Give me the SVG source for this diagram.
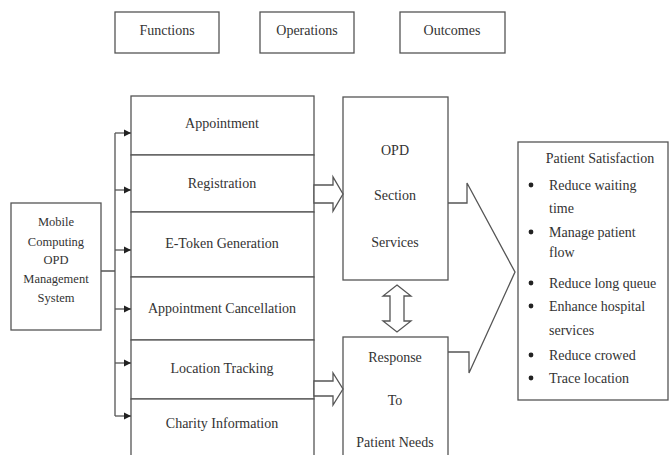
<svg xmlns="http://www.w3.org/2000/svg" width="670" height="455" viewBox="0 0 670 455">
<defs>
<style>
.b{fill:#fff;stroke:#555;stroke-width:1.3}
.l{fill:none;stroke:#555;stroke-width:1.3}
.t{font-family:"Liberation Serif","Times New Roman",serif;font-size:14px;fill:#333;text-anchor:middle}
.s{font-size:12.5px}
.o{font-family:"Liberation Serif","Times New Roman",serif;font-size:14px;fill:#333}
.d{fill:#222}
</style>
<marker id="ah" markerWidth="8" markerHeight="8" refX="7" refY="4" orient="auto" markerUnits="userSpaceOnUse">
<path d="M0,0.5 L7,4 L0,7.5 Z" fill="#222"/>
</marker>
</defs>
<rect width="670" height="455" fill="#fff"/>

<g id="hdr-functions"><rect class="b" x="115" y="12" width="104" height="41"/><text class="t" x="167" y="35">Functions</text></g>
<g id="hdr-operations"><rect class="b" x="260" y="12" width="94" height="41"/><text class="t" x="307" y="35">Operations</text></g>
<g id="hdr-outcomes"><rect class="b" x="400" y="12" width="105" height="41"/><text class="t" x="452" y="35">Outcomes</text></g>

<g id="mobile"><rect class="b" x="11" y="203" width="90" height="127"/>
<text class="t s" x="56" y="226">Mobile</text>
<text class="t s" x="56" y="246">Computing</text>
<text class="t s" x="56" y="264">OPD</text>
<text class="t s" x="56" y="283">Management</text>
<text class="t s" x="56" y="302">System</text></g>

<g id="f-appointment"><rect class="b" x="131" y="96" width="183" height="59"/><text class="t" x="222" y="128">Appointment</text></g>
<g id="f-registration"><rect class="b" x="131" y="155" width="183" height="57"/><text class="t" x="222" y="188">Registration</text></g>
<g id="f-etoken"><rect class="b" x="131" y="212" width="183" height="65"/><text class="t" x="222" y="248">E-Token Generation</text></g>
<g id="f-cancel"><rect class="b" x="131" y="277" width="183" height="63"/><text class="t" x="222" y="313">Appointment Cancellation</text></g>
<g id="f-location"><rect class="b" x="131" y="340" width="183" height="59"/><text class="t" x="222" y="373">Location Tracking</text></g>
<g id="f-charity"><rect class="b" x="131" y="399" width="183" height="60"/><text class="t" x="222" y="428">Charity Information</text></g>

<g id="opd"><rect class="b" x="343" y="97" width="105" height="183"/>
<text class="t" x="395" y="155">OPD</text>
<text class="t" x="395" y="200">Section</text>
<text class="t" x="395" y="247">Services</text></g>

<g id="response"><rect class="b" x="343" y="337" width="105" height="122"/>
<text class="t" x="395" y="362">Response</text>
<text class="t" x="395" y="405">To</text>
<text class="t" x="395" y="447">Patient Needs</text></g>

<g id="outcome"><rect class="b" x="518" y="142" width="150" height="258"/>
<text class="t" x="600" y="163">Patient Satisfaction</text>
<circle class="d" cx="531" cy="185" r="2.4"/><text class="o" x="549" y="190">Reduce waiting</text>
<text class="o" x="549" y="213">time</text>
<circle class="d" cx="531" cy="232" r="2.4"/><text class="o" x="549" y="237">Manage patient</text>
<text class="o" x="549" y="257">flow</text>
<circle class="d" cx="531" cy="283" r="2.4"/><text class="o" x="549" y="288">Reduce long queue</text>
<circle class="d" cx="531" cy="306" r="2.4"/><text class="o" x="549" y="311">Enhance hospital</text>
<text class="o" x="549" y="335">services</text>
<circle class="d" cx="531" cy="355" r="2.4"/><text class="o" x="549" y="360">Reduce crowed</text>
<circle class="d" cx="531" cy="378" r="2.4"/><text class="o" x="549" y="383">Trace location</text></g>

<g id="connectors">
<path class="l" d="M101,271 H115 M115,133 V416"/>
<path class="l" d="M115,133 H131" marker-end="url(#ah)"/>
<path class="l" d="M115,190 H131" marker-end="url(#ah)"/>
<path class="l" d="M115,250 H131" marker-end="url(#ah)"/>
<path class="l" d="M115,309 H131" marker-end="url(#ah)"/>
<path class="l" d="M115,363 H131" marker-end="url(#ah)"/>
<path class="l" d="M115,416 H131" marker-end="url(#ah)"/>
<polygon class="b" points="314,185 333,185 333,177 343,194 333,211 333,203 314,203"/>
<polygon class="b" points="314,381 333,381 333,373 343,389 333,405 333,396 314,396"/>
<polygon class="b" points="397,285 411,296 404,296 404,321 411,321 397,332 383,321 390,321 390,296 383,296"/>
<polyline class="l" points="448,203 467,203 467,183 515,272 469,373 469,352 448,352"/>
</g>
</svg>
